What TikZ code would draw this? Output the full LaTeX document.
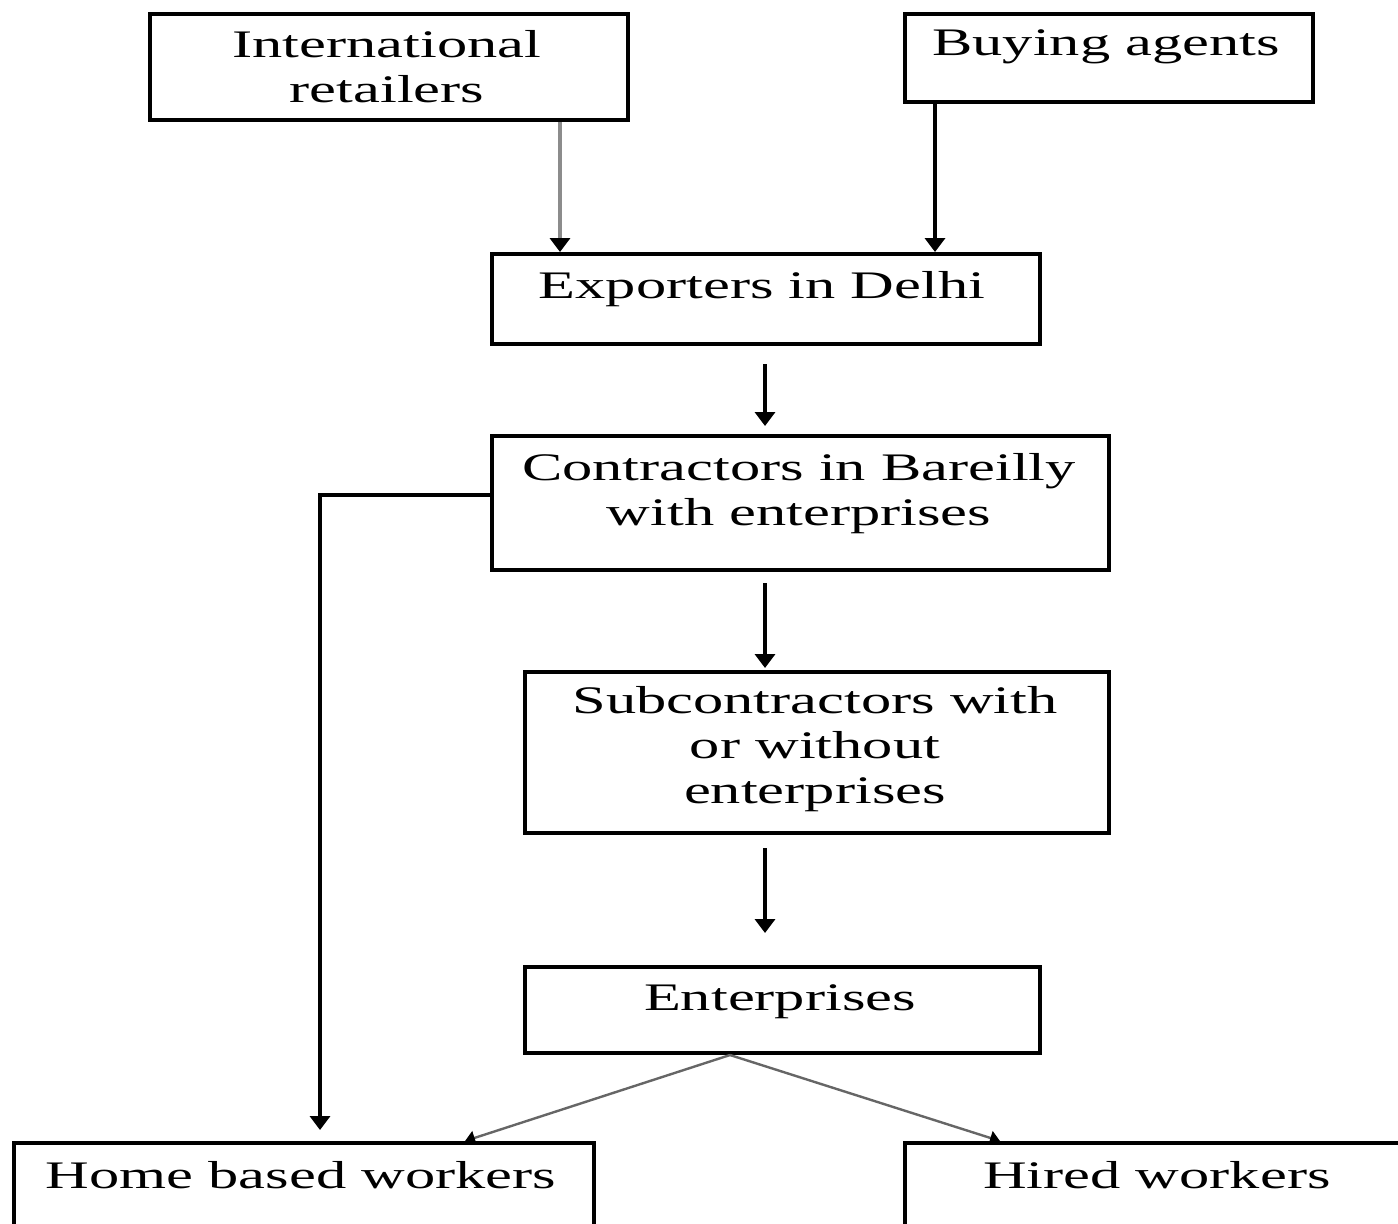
\documentclass[tikz,border=0pt]{standalone}
\usepackage{fontspec}
\usetikzlibrary{arrows.meta}
\newfontfamily\dfont[FakeStretch=1.55]{Liberation Serif}
\tikzset{
  boxnode/.style={draw, line width=2pt, inner sep=0pt, anchor=north west},
  txt/.style={anchor=base, inner sep=0pt, font=\dfont\fontsize{19.5}{22.5}\selectfont},
  arr/.style={line width=2pt, -{Triangle[width=10pt,length=7pt]}},
  thinarr/.style={line width=1.2pt, draw=black!60, -{Triangle[width=7pt,length=5pt,color=black]}},
  grayarr/.style={line width=2pt, draw=black!45, -{Triangle[width=10pt,length=7pt,color=black]}}
}
\begin{document}
\begin{tikzpicture}[x=0.5pt,y=-0.5pt]
\useasboundingbox (0,0) rectangle (1398,1223);
\clip (0,0) rectangle (1398,1223);
% boxes
\node[boxnode, minimum width=239pt, minimum height=53pt] (int) at (148,12) {};
\node[boxnode, minimum width=204pt, minimum height=44pt] (buy) at (903,12) {};
\node[boxnode, minimum width=274pt, minimum height=45pt] (exp) at (490,252) {};
\node[boxnode, minimum width=308.5pt, minimum height=67pt] (con) at (490,434) {};
\node[boxnode, minimum width=292pt, minimum height=80.5pt] (sub) at (523,670) {};
\node[boxnode, minimum width=257.5pt, minimum height=43pt] (ent) at (523,965) {};
\node[boxnode, minimum width=290pt, minimum height=49.5pt] (home) at (12,1141) {};
\node[boxnode, minimum width=256pt, minimum height=49.5pt] (hire) at (903,1141) {};
% texts
\node[txt] (tint) at (387,57) {\begin{tabular}[t]{@{}c@{}}International\\ retailers\end{tabular}};
\node[txt] (tbuy) at (1106,55) {Buying agents};
\node[txt] (texp) at (762,298) {Exporters in Delhi};
\node[txt] (tcon) at (799,480) {\begin{tabular}[t]{@{}c@{}}Contractors in Bareilly\\ with enterprises\end{tabular}};
\node[txt] (tsub) at (815,713) {\begin{tabular}[t]{@{}c@{}}Subcontractors with\\ or without\\ enterprises\end{tabular}};
\node[txt] (tent) at (780,1010) {Enterprises};
\node[txt] (thome) at (301,1188) {Home based workers};
\node[txt] (thire) at (1157,1188) {Hired workers};
% connectors
\draw[grayarr] (int.south -| 560,0) -- (exp.north -| 560,0);
\draw[arr] (buy.south -| 935,0) -- (exp.north -| 935,0);
\draw[arr, shorten <=9pt, shorten >=4pt] (exp.south -| 765,0) -- (con.north -| 765,0);
\draw[arr, shorten <=5.5pt, shorten >=1pt] (con.south -| 765,0) -- (sub.north -| 765,0);
\draw[arr, shorten <=6.5pt, shorten >=16pt] (sub.south -| 765,0) -- (ent.north -| 765,0);
\draw[arr, shorten >=5.5pt] ([yshift=4pt]con.west) -| (home.north -| 320,0);
\draw[thinarr] (ent.south -| 730,0) -- (home.north -| 465,0);
\draw[thinarr] (ent.south -| 730,0) -- (hire.north -| 1000,0);
\end{tikzpicture}
\end{document}
